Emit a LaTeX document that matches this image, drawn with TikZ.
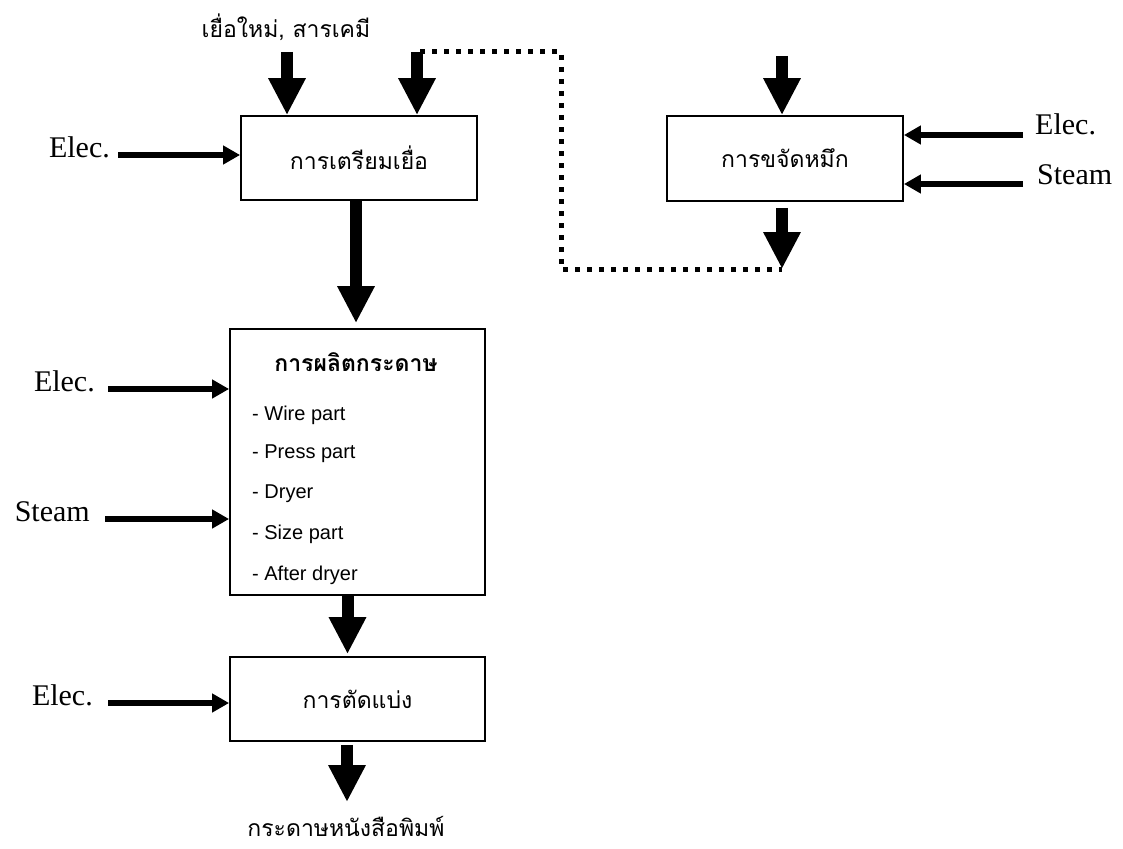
\documentclass[tikz,border=0pt]{standalone}
\usepackage{fontspec}
\setmainfont{Liberation Serif}
\newfontfamily\thaifont[Script=Thai]{Loma}
\newfontfamily\listfont{Liberation Sans}
\usetikzlibrary{arrows.meta,positioning}

\tikzset{
  procbox/.style={draw, line width=1.8pt, inner sep=0pt,
    font=\thaifont\fontsize{23}{27}\selectfont},
  flow/.style={line width=12pt, -{Triangle[length=37pt,width=35pt]}},
  feed/.style={line width=6pt, -{Triangle[length=17pt,width=18pt]}},
  dotline/.style={line width=5pt, dash pattern=on 5pt off 7pt},
  lbl/.style={font=\fontsize{30}{34}\selectfont, inner sep=0pt},
  thailbl/.style={font=\thaifont\fontsize{23}{27}\selectfont, inner sep=0pt},
  item/.style={font=\listfont\fontsize{20}{24}\selectfont, anchor=west, inner sep=0pt},
}

\begin{document}
\begin{tikzpicture}[x=1pt, y=-1pt]
  \useasboundingbox (0,0) rectangle (1123,848);

  % process boxes
  \node[procbox, minimum width=236pt, minimum height=84pt] (prep) at (359,158) {การเตรียมเยื่อ};
  \node[procbox, minimum width=236pt, minimum height=85pt] (deink) at (785,158.5) {การขจัดหมึก};
  \node[procbox, minimum width=255pt, minimum height=266pt] (mill) at (357.5,462) {};
  \node[procbox, minimum width=255pt, minimum height=84pt] (cut) at (357.5,699) {การตัดแบ่ง};

  % paper machine contents
  \node[thailbl, font=\thaifont\bfseries\fontsize{23}{27}\selectfont] (millhead) at (356,362) {การผลิตกระดาษ};
  \node[item] (wire) at (252,415) {- Wire part};
  \node[item] (press) at (252,454) {- Press part};
  \node[item] (dryer) at (252,494) {- Dryer};
  \node[item] (size) at (252,534) {- Size part};
  \node[item] (after) at (252,575) {- After dryer};

  % raw material in, product out
  \node[thailbl] (rawin) at (286,27) {เยื่อใหม่, สารเคมี};
  \node[thailbl] (product) at (346,826) {กระดาษหนังสือพิมพ์};

  % main flow
  \coordinate (rawtop) at (287,52);
  \coordinate (fibtop) at (417,52);
  \coordinate (pulpx) at (356,0);
  \draw[flow] (rawtop) -- (rawtop |- prep.north);
  \draw[flow] (fibtop) -- (fibtop |- prep.north);
  \draw[flow] (prep.south -| pulpx) -- ([yshift=5pt]mill.north -| pulpx);
  \draw[flow] ([xshift=-10pt]mill.south) -- ([xshift=-10pt,yshift=2pt]mill.south |- cut.north);
  \coordinate (prodtip) at (347,802);
  \draw[flow] ([yshift=-3pt]cut.south -| prodtip) -- (prodtip);

  % deinking line
  \coordinate (dtop) at (782,56);
  \coordinate (dtip) at (782,269);
  \draw[flow] (dtop) -- (dtop |- deink.north);
  \draw[flow] ([yshift=-6pt]deink.south -| dtip) -- (dtip);
  \coordinate (dcorner) at (561,269);
  \draw[dotline] ([xshift=3pt]fibtop) -| (dcorner) -- (dtip);

  % energy inputs, left side
  \coordinate (e1) at (118,155);
  \coordinate (e2) at (108,389);
  \coordinate (s2) at (105,519);
  \coordinate (e4) at (108,703);
  \node[lbl, anchor=base east] (e1l) at (110,157) {Elec.};
  \node[lbl, anchor=base east] (e2l) at (95,391) {Elec.};
  \node[lbl, anchor=base east] (s2l) at (90,521) {Steam};
  \node[lbl, anchor=base east] (e4l) at (93,705) {Elec.};
  \draw[feed] (e1) -- (e1 -| prep.west);
  \draw[feed] (e2) -- (e2 -| mill.west);
  \draw[feed] (s2) -- (s2 -| mill.west);
  \draw[feed] (e4) -- (e4 -| cut.west);

  % energy inputs, right side
  \coordinate (e3) at (1023,135);
  \coordinate (s3) at (1023,184);
  \node[lbl, anchor=base west] (e3l) at (1035,134) {Elec.};
  \node[lbl, anchor=base west] (s3l) at (1037,184) {Steam};
  \draw[feed] (e3) -- (e3 -| deink.east);
  \draw[feed] (s3) -- (s3 -| deink.east);
\end{tikzpicture}
\end{document}
